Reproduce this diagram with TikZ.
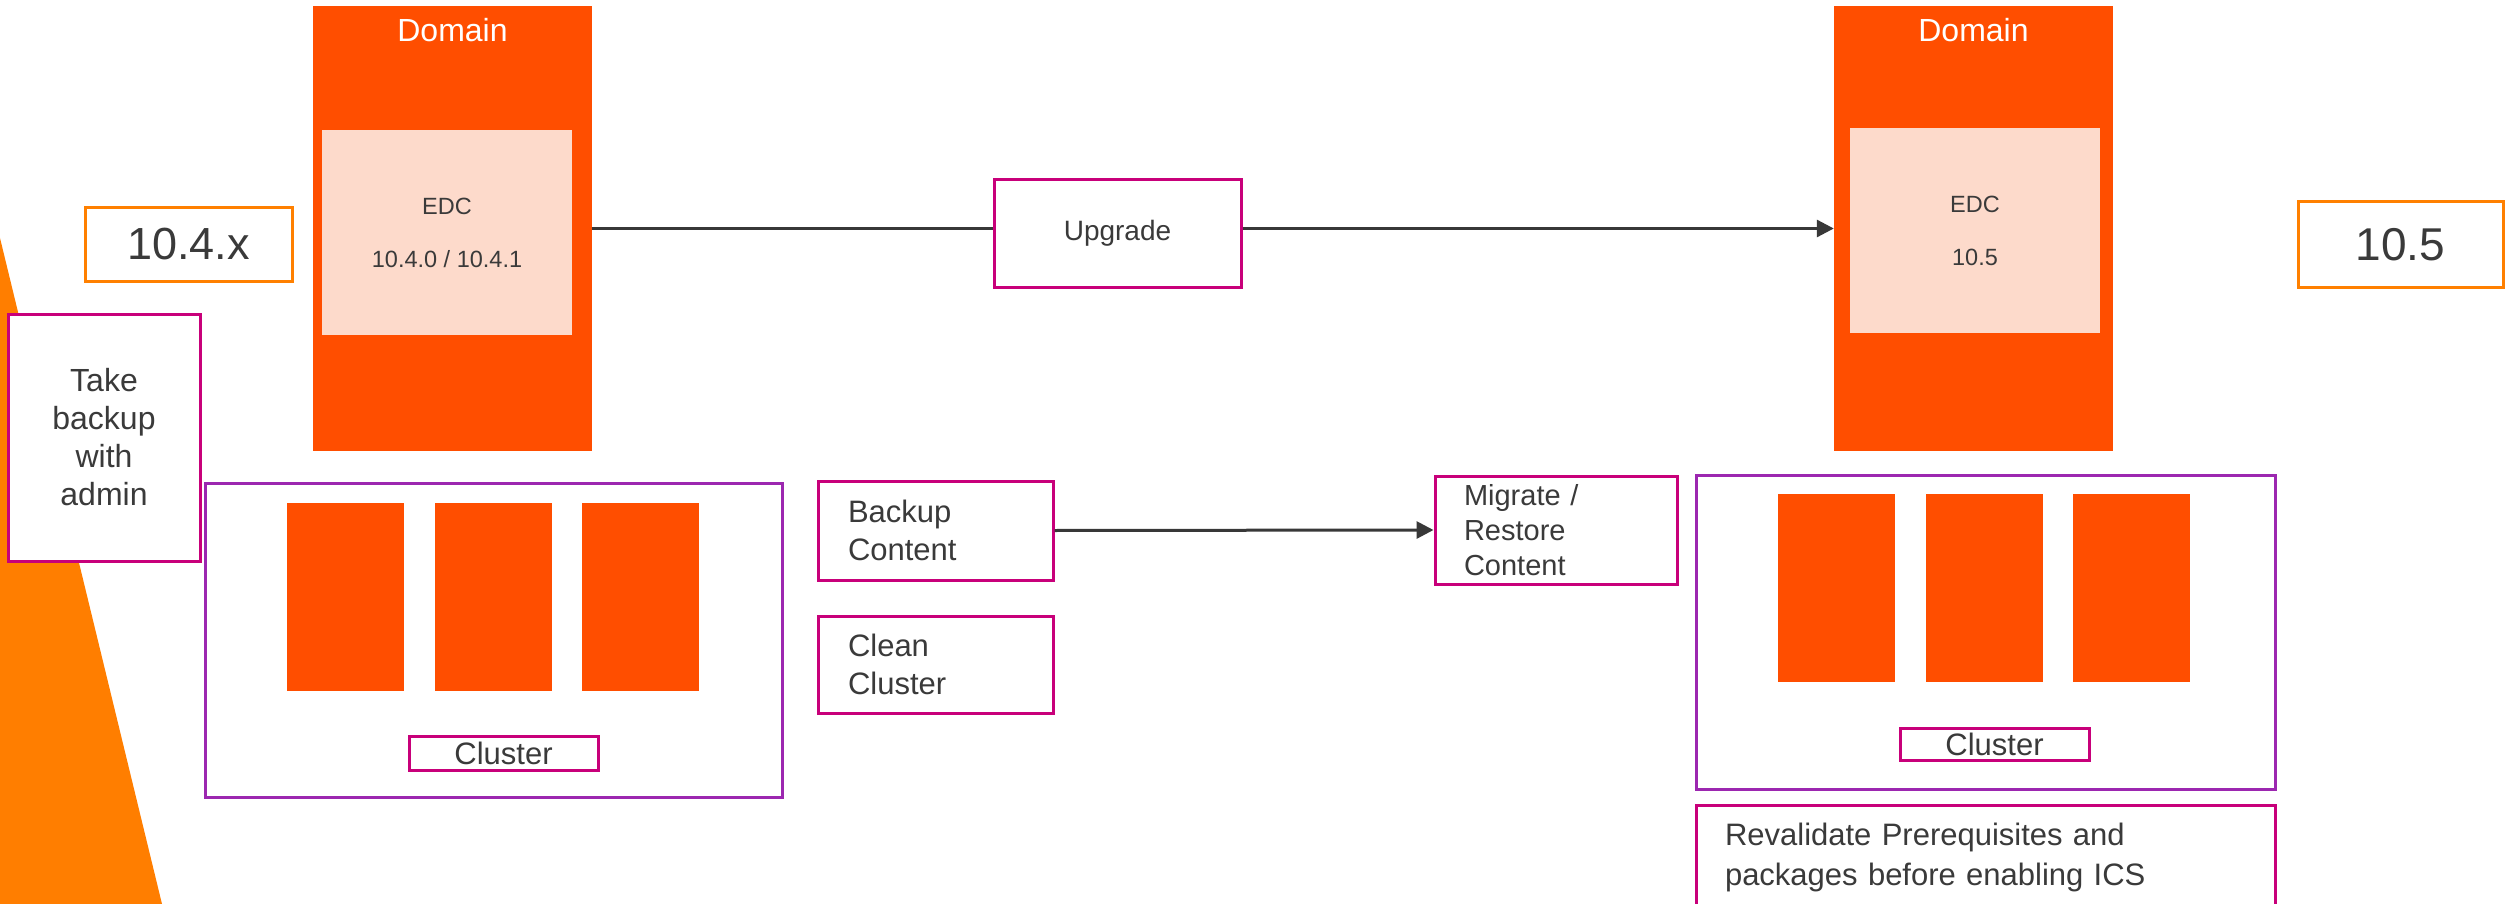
\documentclass[tikz,border=0pt]{standalone}
\usepackage{fontspec}
\setmainfont{Liberation Sans}
\usetikzlibrary{arrows.meta}
\definecolor{dom}{HTML}{FF4E00}
\definecolor{peach}{HTML}{FDDACB}
\definecolor{tri}{HTML}{FF7E00}
\definecolor{verbox}{HTML}{FF8000}
\definecolor{pinkline}{HTML}{C8007A}
\definecolor{purp}{HTML}{9C27B0}
\definecolor{ink}{HTML}{3A3A3A}
\definecolor{arr}{HTML}{383838}
\begin{document}
\begin{tikzpicture}[x=1pt,y=-1pt,
  domainbox/.style={fill=dom, draw=none, minimum width=279pt, minimum height=445pt, inner sep=0pt},
  domaintitle/.style={text=white, inner sep=0pt, font=\fontsize{32}{38}\selectfont},
  edcbox/.style={fill=peach, draw=none, minimum width=250pt, minimum height=205pt, inner sep=0pt, align=center, text=ink, font=\fontsize{23.5}{53}\selectfont},
  verstyle/.style={draw=verbox, line width=3pt, text=ink, inner sep=0pt, font=\fontsize{45}{54}\selectfont},
  stepbox/.style={draw=pinkline, line width=3pt, text=ink, inner ysep=0pt, align=left, font=\fontsize{31}{38}\selectfont},
  frame/.style={draw=purp, line width=3pt, minimum width=578pt, minimum height=314pt, inner sep=0pt},
  node/.style={fill=dom, draw=none, minimum width=117pt, minimum height=188pt, inner sep=0pt},
  clabel/.style={draw=pinkline, line width=3pt, text=ink, inner sep=0pt, minimum width=189pt, minimum height=33pt, font=\fontsize{31}{36}\selectfont},
  conn/.style={draw=arr, line width=3pt},
  tip/.style={-{Triangle[length=17pt,width=17pt]}}
]
\useasboundingbox (0,0) rectangle (2514,904);
\clip (0,0) rectangle (2514,904);
\fill[white] (0,0) rectangle (2514,904);
\fill[tri] (0,238) -- (162,904) -- (0,904) -- cycle;

% left side
\node[verstyle, minimum width=207pt, minimum height=73pt] (v1) at (188.5,244.5) {10.4.x};
\node[stepbox, fill=white, inner xsep=21pt, text width=150pt, minimum height=247pt, align=center, font=\fontsize{32}{38}\selectfont] (take) at (104,437.5) {Take\\backup\\with\\admin};
\node[domainbox] (dl) at (452.5,228.5) {};
\node[domaintitle] (dlt) at (452.5,30) {Domain};
\node[edcbox] (edcl) at (447,232.5) {EDC\\10.4.0 / 10.4.1};

\node[frame, minimum width=577pt] (cl) at (493.5,640) {};
\node[node] (cl1) at (345.5,597) {};
\node[node] (cl2) at (493,597) {};
\node[node] (cl3) at (640.5,597) {};
\node[clabel, minimum height=34pt] (cll) at (503.5,753) {Cluster};

% middle
\node[stepbox, inner xsep=0pt, minimum width=247pt, minimum height=107pt, align=center, font=\fontsize{28}{34}\selectfont] (up) at (1117.5,233.5) {Upgrade};
\node[stepbox, inner xsep=30pt, text width=175pt, minimum height=99pt] (bc) at (935.5,530.5) {Backup\\Content};
\node[stepbox, inner xsep=30pt, text width=175pt, minimum height=97pt] (cc) at (935.5,664.5) {Clean\\Cluster};
\node[stepbox, inner xsep=29pt, text width=184pt, minimum height=108pt, font=\fontsize{29}{35}\selectfont] (mr) at (1556,530) {Migrate /\\Restore\\Content};

% right side
\node[domainbox] (dr) at (1973.5,228.5) {};
\node[domaintitle] (drt) at (1973.5,30) {Domain};
\node[edcbox] (edcr) at (1975,230.5) {EDC\\10.5};
\node[verstyle, minimum width=205pt, minimum height=85pt, font=\fontsize{46}{54}\selectfont] (v2) at (2400.5,244.5) {10.5};

\node[frame, minimum width=579pt] (cr) at (1985.5,632) {};
\node[node] (cr1) at (1836.5,587.5) {};
\node[node] (cr2) at (1984.5,587.5) {};
\node[node] (cr3) at (2131.5,587.5) {};
\node[clabel, minimum height=32pt] (crl) at (1994.5,744) {Cluster};
\node[stepbox, inner xsep=29pt, text width=521pt, minimum height=104pt, font=\fontsize{31}{40}\selectfont] (rv) at (1985.5,857) {Revalidate Prerequisites and\\packages before enabling ICS};

% connectors
\draw[conn] (dl.east) -- (dl.east -| up.west);
\draw[conn, tip] (up.east |- dl.east) -- (dr.west);
\draw[conn, tip] (bc.east) -- (mr.west);
\end{tikzpicture}
\end{document}
